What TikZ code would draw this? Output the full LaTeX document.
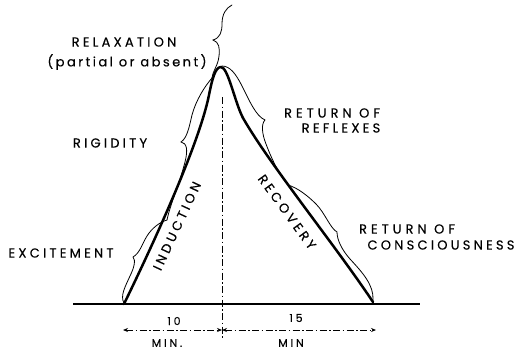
\documentclass[tikz,border=0pt]{standalone}
\usepackage{fontspec}
\setmainfont{Poppins}[LetterSpace=25, FakeBold=0.3]
\usetikzlibrary{arrows.meta}
\begin{document}
\begin{tikzpicture}[x=1pt,y=-1pt,
  lab/.style={inner sep=0pt, font=\fontsize{13}{15}\selectfont},
  small/.style={inner sep=0pt, font=\fontsize{11}{13}\selectfont},
  maincurve/.style={line width=2.5pt, line join=round, line cap=round},
  bracestyle/.style={line width=0.8pt, line join=miter, line cap=round},
  dashdot/.style={line width=0.8pt, dash pattern=on 7pt off 2.5pt on 1.5pt off 2.5pt},
  dimarrow/.style={dashdot, {Stealth[length=5pt,width=4pt]}-{Stealth[length=5pt,width=4pt]}},
]
\useasboundingbox (0,0) rectangle (516,351);

% named points
\coordinate (footL) at (124,304);
\coordinate (peak) at (221,67);
\coordinate (footR) at (373,302);
\coordinate (baseL) at (73,304);
\coordinate (baseR) at (420,304);
\coordinate (vtop) at (222,97);
\coordinate (vbot) at (222,338);
\coordinate (dimL) at (123,330);
\coordinate (dimM) at (222,330);
\coordinate (dimR) at (376,330);

% baseline
\draw[line width=1.1pt] (baseL) -- (baseR);
\draw[line width=2.2pt] (baseL) -- (footL);

% main curve
\draw[maincurve] (footL) .. controls (160,230) and (200,140) .. (209,95)
  .. controls (212,80) and (215,67) .. (peak)
  .. controls (228,67) and (235,103) .. (243,118)
  .. controls (270,165) and (335,245) .. (footR);

% vertical dashed line
\draw[dashdot] (vtop) -- (vbot);

% dimension arrows
\draw[dimarrow] (dimL) -- (dimM);
\draw[dimarrow] (dimM) -- (dimR);

% braces
% relaxation
\draw[bracestyle] (232,5) .. controls (226,8) and (222,14) .. (222,24)
  .. controls (222,32) and (220,38) .. (213,40)
  .. controls (219,42) and (220,48) .. (219,56)
  .. controls (218,66) and (213,70) .. (212,78);
% rigidity
\draw[bracestyle] (212,78) .. controls (205,86) and (196,100) .. (192,115)
  .. controls (189,128) and (187,138) .. (181,142)
  .. controls (187,143) and (188,150) .. (185,162)
  .. controls (180,182) and (170,205) .. (167,220);
% excitement
\draw[bracestyle] (167,220) .. controls (160,222) and (152,228) .. (147,236)
  .. controls (142,244) and (140,253) .. (133,257)
  .. controls (136,260) and (134,268) .. (130,276)
  .. controls (125,287) and (120,296) .. (124,303);
% reflexes
\draw[bracestyle] (222,66) .. controls (230,66) and (236,74) .. (242,86)
  .. controls (250,102) and (256,116) .. (265,120)
  .. controls (261,124) and (262,134) .. (266,144)
  .. controls (272,160) and (280,176) .. (288,185);
% consciousness
\draw[bracestyle] (288,185) .. controls (298,188) and (308,196) .. (316,204)
  .. controls (325,213) and (330,228) .. (337,232)
  .. controls (337,240) and (342,250) .. (350,259)
  .. controls (362,272) and (374,285) .. (373,300);

% labels
\node[lab] (relax) at (124,42) {RELAXATION};
\node[lab] (partial) at (127,62) {\addfontfeature{LetterSpace=19}(partial or absent)};
\node[lab] (rigid) at (110,143) {RIGIDITY};
\node[lab] (excite) at (61,253) {EXCITEMENT};
\node[lab] (ret1) at (332,113) {\addfontfeature{LetterSpace=31}RETURN OF};
\node[lab] (refl) at (341,128) {REFLEXES};
\node[lab] (ret2) at (407,229) {\addfontfeature{LetterSpace=31}RETURN OF};
\node[lab] (consc) at (441,245) {CONSCIOUSNESS};
\node[lab, rotate=65] (induct) at (177,226) {INDUCTION};
\node[lab, rotate=-54] (recov) at (287,212) {RECOVERY};
\node[small] (ten) at (174,321) {10};
\node[small] (minA) at (167,343) {MIN.};
\node[small] (fifteen) at (296,318) {15};
\node[small] (minB) at (291,343) {MIN};
\end{tikzpicture}
\end{document}
